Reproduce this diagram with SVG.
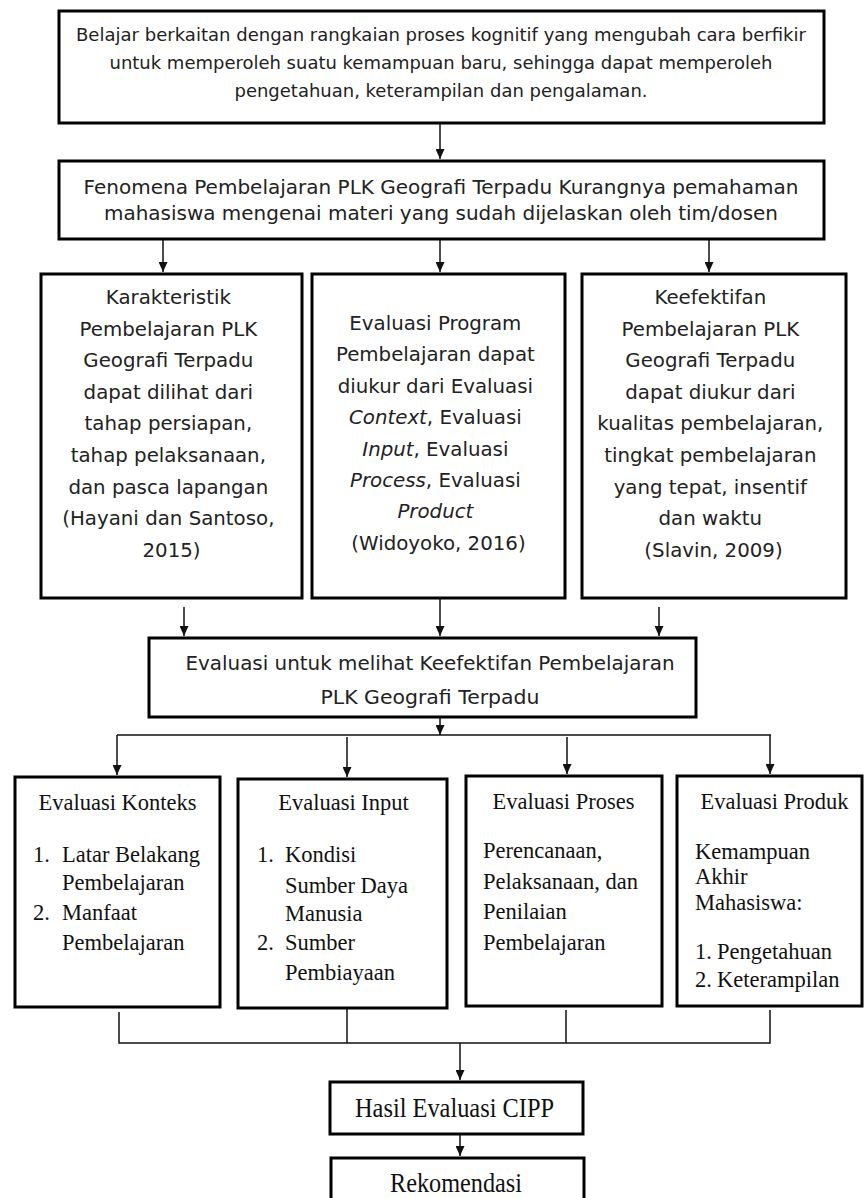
<svg xmlns="http://www.w3.org/2000/svg" width="865" height="1198" viewBox="0 0 865 1198">
<style>
.box{fill:#fff;stroke:#000;stroke-width:3}
.sans{font-family:"DejaVu Sans","Liberation Sans",sans-serif;fill:#222}
.c{text-anchor:middle}
.s17{font-size:17.5px}
.s19{font-size:19px}
.s20{font-size:19.8px}
.serif{font-family:"Liberation Serif","Times New Roman",serif;fill:#111;font-size:22.5px}
.big{font-size:27px}
.conn{fill:none;stroke:#111;stroke-width:1.5}
</style>
<defs>
<marker id="arr" markerWidth="10" markerHeight="9" refX="10" refY="4.5" orient="auto" markerUnits="userSpaceOnUse" viewBox="0 0 10 9">
<path d="M0,0 L10,4.5 L0,9 Z" fill="#111"/>
</marker>
</defs>
<rect width="865" height="1198" fill="#fff"/>

<g id="connectors">
<path class="conn" d="M440 123 V159" marker-end="url(#arr)"/>
<path class="conn" d="M163 240 V272" marker-end="url(#arr)"/>
<path class="conn" d="M440 240 V272" marker-end="url(#arr)"/>
<path class="conn" d="M709 240 V272" marker-end="url(#arr)"/>
<path class="conn" d="M184 607 V636" marker-end="url(#arr)"/>
<path class="conn" d="M440 599 V636" marker-end="url(#arr)"/>
<path class="conn" d="M659 607 V636" marker-end="url(#arr)"/>
<path class="conn" d="M440 718 V735" marker-end="url(#arr)"/>
<path class="conn" d="M117 735 H771"/>
<path class="conn" d="M117 735 V775" marker-end="url(#arr)"/>
<path class="conn" d="M347 737 V777" marker-end="url(#arr)"/>
<path class="conn" d="M567 737 V774" marker-end="url(#arr)"/>
<path class="conn" d="M770 735 V774" marker-end="url(#arr)"/>
<path class="conn" d="M119 1012 V1043 H770 V1010"/>
<path class="conn" d="M347 1009 V1043"/>
<path class="conn" d="M566 1010 V1043"/>
<path class="conn" d="M460 1043 V1080" marker-end="url(#arr)"/>
<path class="conn" d="M460 1135 V1156" marker-end="url(#arr)"/>
</g>

<g id="n1">
<rect class="box" x="59" y="11" width="765" height="112"/>
<text class="sans s17 c" x="441" y="41" textLength="730" lengthAdjust="spacingAndGlyphs">Belajar berkaitan dengan rangkaian proses kognitif yang mengubah cara berfikir</text>
<text class="sans s17 c" x="441" y="69" textLength="663" lengthAdjust="spacingAndGlyphs">untuk memperoleh suatu kemampuan baru, sehingga dapat memperoleh</text>
<text class="sans s17 c" x="441" y="97" textLength="413" lengthAdjust="spacingAndGlyphs">pengetahuan, keterampilan dan pengalaman.</text>
</g>

<g id="n2">
<rect class="box" x="59" y="161" width="765" height="78"/>
<text class="sans s19 c" x="441" y="194" textLength="715" lengthAdjust="spacingAndGlyphs">Fenomena Pembelajaran PLK Geografi Terpadu Kurangnya pemahaman</text>
<text class="sans s19 c" x="441" y="220" textLength="674" lengthAdjust="spacingAndGlyphs">mahasiswa mengenai materi yang sudah dijelaskan oleh tim/dosen</text>
</g>

<g id="n3">
<rect class="box" x="41" y="274" width="261" height="324"/>
<text class="sans s20 c" x="171.5">
<tspan x="171.5" y="304">Karakteristik</tspan>
<tspan x="171.5" y="335.6">Pembelajaran PLK</tspan>
<tspan x="171.5" y="367.2">Geografi Terpadu</tspan>
<tspan x="171.5" y="398.8">dapat dilihat dari</tspan>
<tspan x="171.5" y="430.4">tahap persiapan,</tspan>
<tspan x="171.5" y="462">tahap pelaksanaan,</tspan>
<tspan x="171.5" y="493.6">dan pasca lapangan</tspan>
<tspan x="171.5" y="525.2">(Hayani dan Santoso,</tspan>
<tspan x="171.5" y="556.8">2015)</tspan>
</text>
</g>

<g id="n4">
<rect class="box" x="312" y="274" width="253" height="324"/>
<text class="sans s20 c" x="438.5">
<tspan x="438.5" y="330">Evaluasi Program</tspan>
<tspan x="438.5" y="361.4">Pembelajaran dapat</tspan>
<tspan x="438.5" y="392.8">diukur dari Evaluasi</tspan>
<tspan x="438.5" y="424.2"><tspan font-style="italic">Context</tspan>, Evaluasi</tspan>
<tspan x="438.5" y="455.6"><tspan font-style="italic">Input</tspan>, Evaluasi</tspan>
<tspan x="438.5" y="487"><tspan font-style="italic">Process</tspan>, Evaluasi</tspan>
<tspan x="438.5" y="518.4" font-style="italic">Product</tspan>
<tspan x="438.5" y="549.8">(Widoyoko, 2016)</tspan>
</text>
</g>

<g id="n5">
<rect class="box" x="582" y="274" width="264" height="324"/>
<text class="sans s20 c" x="713.5">
<tspan x="713.5" y="304">Keefektifan</tspan>
<tspan x="713.5" y="335.6">Pembelajaran PLK</tspan>
<tspan x="713.5" y="367.2">Geografi Terpadu</tspan>
<tspan x="713.5" y="398.8">dapat diukur dari</tspan>
<tspan x="713.5" y="430.4">kualitas pembelajaran,</tspan>
<tspan x="713.5" y="462">tingkat pembelajaran</tspan>
<tspan x="713.5" y="493.6">yang tepat, insentif</tspan>
<tspan x="713.5" y="525.2">dan waktu</tspan>
<tspan x="713.5" y="556.8">(Slavin, 2009)</tspan>
</text>
</g>

<g id="n6">
<rect class="box" x="149" y="638" width="547" height="79"/>
<text class="sans s20 c" x="430" y="670" textLength="489" lengthAdjust="spacingAndGlyphs">Evaluasi untuk melihat Keefektifan Pembelajaran</text>
<text class="sans s20 c" x="430" y="704" textLength="219" lengthAdjust="spacingAndGlyphs">PLK Geografi Terpadu</text>
</g>

<g id="n7">
<rect class="box" x="15" y="777" width="205" height="230"/>
<text class="serif c" x="117.5" y="810">Evaluasi Konteks</text>
<text class="serif"><tspan x="33" y="862">1.</tspan><tspan x="62" y="862">Latar Belakang</tspan><tspan x="62" y="890">Pembelajaran</tspan><tspan x="33" y="920">2.</tspan><tspan x="62" y="920">Manfaat</tspan><tspan x="62" y="950">Pembelajaran</tspan></text>
</g>

<g id="n8">
<rect class="box" x="238" y="779" width="209" height="229"/>
<text class="serif c" x="343.5" y="810">Evaluasi Input</text>
<text class="serif"><tspan x="257" y="862">1.</tspan><tspan x="285" y="862">Kondisi</tspan><tspan x="285" y="893">Sumber Daya</tspan><tspan x="285" y="921">Manusia</tspan><tspan x="257" y="950">2.</tspan><tspan x="285" y="950">Sumber</tspan><tspan x="285" y="980">Pembiayaan</tspan></text>
</g>

<g id="n9">
<rect class="box" x="466" y="776" width="196" height="230"/>
<text class="serif c" x="563.5" y="809">Evaluasi Proses</text>
<text class="serif"><tspan x="483" y="858">Perencanaan,</tspan><tspan x="483" y="889">Pelaksanaan, dan</tspan><tspan x="483" y="919">Penilaian</tspan><tspan x="483" y="950">Pembelajaran</tspan></text>
</g>

<g id="n10">
<rect class="box" x="677" y="776" width="185" height="230"/>
<text class="serif c" x="774.5" y="809">Evaluasi Produk</text>
<text class="serif"><tspan x="695" y="859">Kemampuan</tspan><tspan x="695" y="884">Akhir</tspan><tspan x="695" y="910">Mahasiswa:</tspan><tspan x="695" y="959">1.</tspan><tspan x="717" y="959">Pengetahuan</tspan><tspan x="695" y="987">2.</tspan><tspan x="717" y="987">Keterampilan</tspan></text>
</g>

<g id="n11">
<rect class="box" x="330" y="1082" width="253" height="52"/>
<text class="serif big c" x="454.5" y="1117" textLength="199" lengthAdjust="spacingAndGlyphs">Hasil Evaluasi CIPP</text>
</g>

<g id="n12">
<rect class="box" x="331" y="1158" width="253" height="60"/>
<text class="serif big c" x="456" y="1192" textLength="132" lengthAdjust="spacingAndGlyphs">Rekomendasi</text>
</g>
</svg>
